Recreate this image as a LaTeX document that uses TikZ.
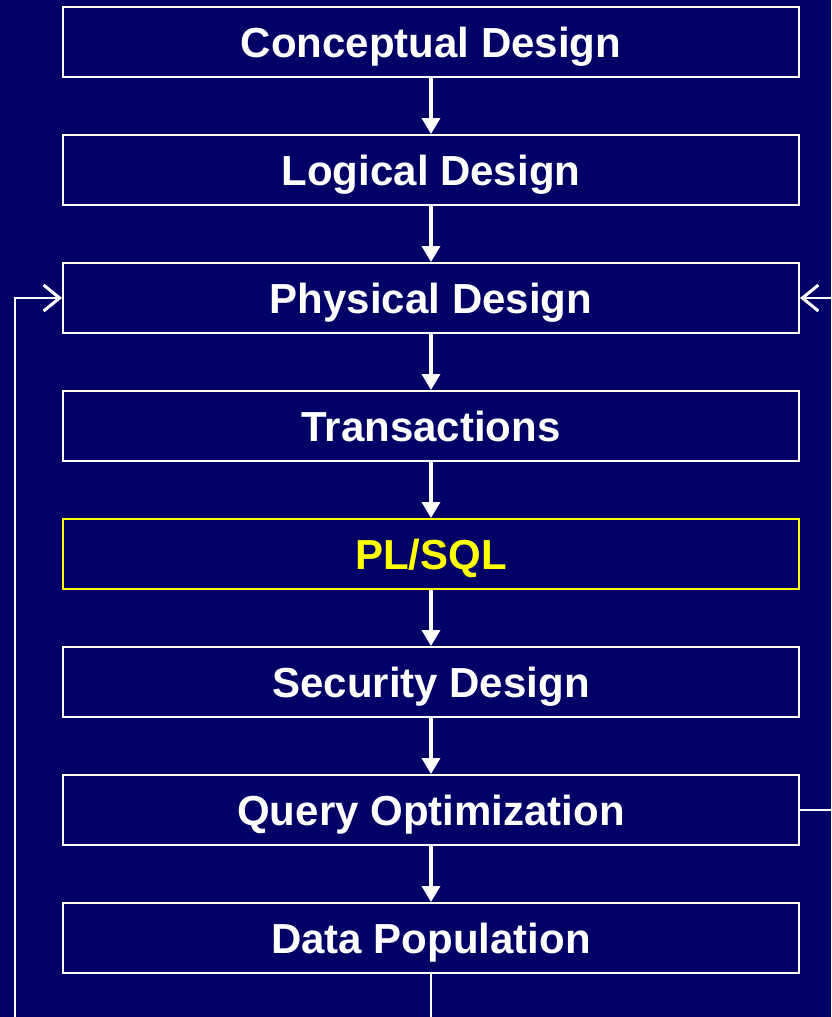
\documentclass[tikz,border=0pt]{standalone}
\usepackage{fontspec}
\setmainfont{Liberation Sans}
\usetikzlibrary{arrows.meta}
\definecolor{bg}{HTML}{000066}
\definecolor{hl}{HTML}{FFFF00}
\begin{document}
\begin{tikzpicture}[x=1pt,y=-1pt,
  stage/.style={draw=white,line width=2pt,minimum width=736pt,minimum height=70pt,inner sep=0pt,
    text height=31pt,text depth=0pt,
    text=white,font=\fontsize{42}{48}\selectfont\bfseries},
  hlstage/.style={stage,draw=hl,text=hl},
  flow/.style={draw=white,line width=3.5pt,-{Triangle[length=16pt,width=18pt]}},
  back/.style={draw=white,line width=2.5pt,-{Straight Barb[length=16pt,width=26pt,line width=3pt]}}]
\useasboundingbox (0,0) rectangle (831,1017);
\fill[bg] (0,0) rectangle (831,1017);
\clip (0,0) rectangle (831,1017);
\node[stage] (cd) at (431,42) {Conceptual Design};
\node[stage] (ld) at (431,170) {Logical Design};
\node[stage] (pd) at (431,298) {Physical Design};
\node[stage] (tr) at (431,426) {Transactions};
\node[hlstage] (pl) at (431,554) {PL/SQL};
\node[stage] (sd) at (431,682) {Security Design};
\node[stage] (qo) at (431,810) {Query Optimization};
\node[stage] (dp) at (431,938) {Data Population};
\draw[flow] (cd) -- (ld);
\draw[flow] (ld) -- (pd);
\draw[flow] (pd) -- (tr);
\draw[flow] (tr) -- (pl);
\draw[flow] (pl) -- (sd);
\draw[flow] (sd) -- (qo);
\draw[flow] (qo) -- (dp);
\coordinate (lowleft) at (15,1040);
\coordinate (farright) at (860,810);
\draw[back] (dp.south) |- (lowleft) |- (pd.west);
\draw[back] (qo.east) -- (farright) |- (pd.east);
\end{tikzpicture}
\end{document}
